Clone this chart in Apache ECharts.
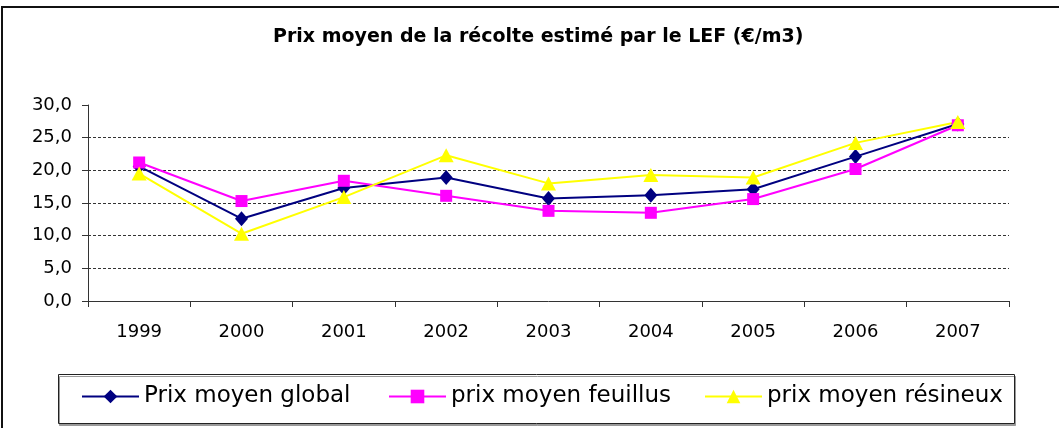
<!DOCTYPE html>
<html>
<head>
<meta charset="utf-8">
<script src="https://cdn.jsdelivr.net/npm/echarts@6/dist/echarts.min.js"></script>
<style>
  html, body { margin: 0; padding: 0; background: #fff; }
  #chart { width: 1059px; height: 428px; }
</style>
</head>
<body>
<div id="chart"></div>
<script>
  var years = ['1999', '2000', '2001', '2002', '2003', '2004', '2005', '2006', '2007'];
  var prixGlobal = [20.6, 12.6, 17.3, 18.9, 15.7, 16.2, 17.1, 22.1, 27.1];
  var prixFeuillus = [21.2, 15.3, 18.4, 16.1, 13.8, 13.5, 15.6, 20.2, 26.9];
  var prixResineux = [19.5, 10.3, 15.9, 22.3, 18.0, 19.3, 18.9, 24.2, 27.4];
  var names = ['Prix moyen global', 'prix moyen feuillus', 'prix moyen résineux'];

  var chart = echarts.init(document.getElementById('chart'));
  var font = 'DejaVu Sans';

  function legendAt(left, name) {
    return {
      left: left, top: 385, padding: 0,
      itemWidth: 57, itemHeight: 17, itemGap: 0,
      data: [name],
      selectedMode: false,
      textStyle: { fontFamily: font, fontSize: 23, color: '#000' }
    };
  }

  var option = {
    animation: false,
    title: {
      text: 'Prix moyen de la récolte estimé par le LEF (€/m3)',
      left: 273, top: 28, padding: 0,
      textStyle: { fontFamily: font, fontSize: 19, fontWeight: 'bold', color: '#000' }
    },
    graphic: [
      { type: 'rect', shape: { x: 2, y: 7, width: 1100, height: 500 },
        style: { fill: 'none', stroke: '#111', lineWidth: 2 }, z: -10 },
      { type: 'rect', shape: { x: 58.5, y: 374.5, width: 956, height: 49 },
        style: { fill: '#fff', stroke: '#222', lineWidth: 1,
                 shadowColor: '#999', shadowOffsetX: 1, shadowOffsetY: 2 }, z: -5 }
    ],
    legend: [
      legendAt(81, names[0]),
      legendAt(388, names[1]),
      legendAt(704, names[2])
    ],
    grid: { left: 88, right: 50, top: 105, bottom: 127 },
    xAxis: {
      type: 'category',
      data: years,
      boundaryGap: true,
      axisLine: { lineStyle: { color: '#333', width: 1 } },
      axisTick: { show: true, length: 6, lineStyle: { color: '#333' } },
      axisLabel: { fontFamily: font, fontSize: 18, color: '#000', margin: 22 }
    },
    yAxis: {
      type: 'value',
      min: 0, max: 30, interval: 5,
      axisLine: { show: true, lineStyle: { color: '#333', width: 1 } },
      axisTick: { show: true, length: 6, lineStyle: { color: '#333' } },
      axisLabel: {
        fontFamily: font, fontSize: 18, color: '#000', margin: 16,
        formatter: function (v) { return v.toFixed(1).replace('.', ','); }
      },
      splitLine: {
        show: true, showMinLine: false, showMaxLine: false,
        lineStyle: { color: '#333', width: 1, type: [3, 2] }
      }
    },
    series: [
      {
        name: names[0], type: 'line', data: prixGlobal,
        symbol: 'diamond', symbolSize: [13, 15],
        itemStyle: { color: '#000080' },
        lineStyle: { color: '#000080', width: 2 }
      },
      {
        name: names[1], type: 'line', data: prixFeuillus,
        symbol: 'rect', symbolSize: 12,
        itemStyle: { color: '#ff00ff' },
        lineStyle: { color: '#ff00ff', width: 2 }
      },
      {
        name: names[2], type: 'line', data: prixResineux,
        symbol: 'triangle', symbolSize: [15, 14],
        itemStyle: { color: '#ffff00' },
        lineStyle: { color: '#ffff00', width: 2 }
      }
    ]
  };
  chart.setOption(option);
</script>
</body>
</html>
